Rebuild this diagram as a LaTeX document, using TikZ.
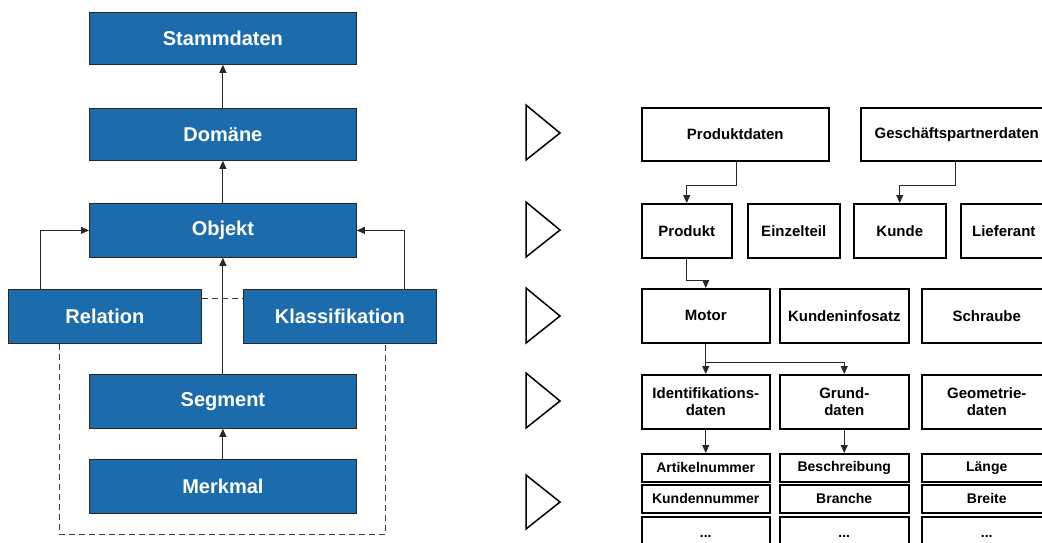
\documentclass[tikz,border=0pt]{standalone}
\usepackage{fontspec}
\setmainfont{Liberation Sans}
\usetikzlibrary{arrows.meta}
\definecolor{ebene}{RGB}{27,107,173}
\definecolor{linie}{RGB}{40,40,40}
\tikzset{
  bluebox/.style={draw=linie, line width=0.8pt, fill=ebene, text=white,
    font=\fontsize{20}{24}\selectfont\bfseries, inner sep=0pt, anchor=north west},
  databox/.style={draw=black, line width=1.5pt, fill=white, text=black,
    font=\fontsize{15}{17}\selectfont\bfseries, inner sep=0pt, anchor=north west, align=center},
  smallbox/.style={databox, font=\fontsize{14}{16}\selectfont\bfseries},
  arr/.style={draw=linie, line width=0.9pt, -{Triangle[length=8pt,width=7pt]}},
  dashline/.style={draw=linie!90, line width=0.9pt, dash pattern=on 6pt off 4pt},
  levelmark/.style={draw=black, line width=1.5pt, line join=miter}
}
\begin{document}
\begin{tikzpicture}[x=1pt,y=-1pt]
\useasboundingbox (0,0) rectangle (1042,542);
\clip (0,0) rectangle (1042,542);

% --- Ebenenmodell links ---
\node[bluebox, minimum width=267pt, minimum height=52pt] (stamm) at (89,12) {Stammdaten};
\node[bluebox, minimum width=267pt, minimum height=52pt] (dom) at (89,108) {Domäne};
\node[bluebox, minimum width=267pt, minimum height=54pt] (obj) at (89,203) {Objekt};
\node[bluebox, minimum width=193pt, minimum height=54pt] (rel) at (8,289) {Relation};
\node[bluebox, minimum width=193pt, minimum height=54pt] (kla) at (243,289) {Klassifikation};
\node[bluebox, minimum width=267pt, minimum height=54pt] (seg) at (89,374) {Segment};
\node[bluebox, minimum width=267pt, minimum height=54pt] (merk) at (89,459) {Merkmal};
\coordinate (ubot) at (223,534);

\draw[arr] (dom.north) -- (stamm.south);
\draw[arr] (obj.north) -- (dom.south);
\draw[arr] (seg.north) -- (obj.south);
\draw[arr] (merk.north) -- (seg.south);
\draw[arr] ([xshift=32pt]rel.north west) |- (obj.west);
\draw[arr] ([xshift=-32pt]kla.north east) |- (obj.east);
\draw[dashline] ([yshift=-9pt]rel.north east) -- ([yshift=-9pt]kla.north west);
\draw[dashline] ([xshift=51pt]rel.south west) |- (ubot) -| ([xshift=-51pt]kla.south east);

% --- Ebenenmarken ---
\draw[levelmark] (526,105) -- (560,133) -- (526,160) -- cycle;
\draw[levelmark] (526,202) -- (560,230) -- (526,257) -- cycle;
\draw[levelmark] (526,288) -- (560,316) -- (526,343) -- cycle;
\draw[levelmark] (526,373) -- (560,401) -- (526,428) -- cycle;
\draw[levelmark] (526,475) -- (560,502) -- (526,529) -- cycle;

% --- Beispiele rechts ---
\node[databox, minimum width=187pt, minimum height=53pt] (pd) at (641,107) {Produktdaten};
\node[databox, minimum width=192pt, minimum height=53pt] (gp) at (860,107) {Geschäftspartnerdaten};

\node[databox, minimum width=90pt, minimum height=54pt] (prod) at (641,203) {Produkt};
\node[databox, minimum width=92pt, minimum height=54pt] (einz) at (747,203) {Einzelteil};
\node[databox, minimum width=92pt, minimum height=54pt] (kunde) at (853,203) {Kunde};
\node[databox, minimum width=86pt, minimum height=54pt] (lief) at (960,203) {Lieferant};

\node[databox, minimum width=128pt, minimum height=54pt] (motor) at (641,288) {Motor};
\node[databox, minimum width=129pt, minimum height=54pt] (kinfo) at (779,288) {Kundeninfosatz};
\node[databox, minimum width=130pt, minimum height=54pt] (schr) at (921,288) {Schraube};

\node[databox, minimum width=128pt, minimum height=54pt] (ident) at (641,374) {Identifikations-\\daten};
\node[databox, minimum width=129pt, minimum height=54pt] (grund) at (779,374) {Grund-\\daten};
\node[databox, minimum width=130pt, minimum height=54pt] (geo) at (921,374) {Geometrie-\\daten};

\node[smallbox, minimum width=128pt, minimum height=28pt] (art) at (641,453) {Artikelnummer};
\node[smallbox, minimum width=129pt, minimum height=28pt] (besch) at (779,453) {Beschreibung};
\node[smallbox, minimum width=130pt, minimum height=28pt] (laenge) at (921,453) {Länge};
\node[smallbox, minimum width=128pt, minimum height=28pt] (knr) at (641,484) {Kundennummer};
\node[smallbox, minimum width=129pt, minimum height=28pt] (branche) at (779,484) {Branche};
\node[smallbox, minimum width=130pt, minimum height=28pt] (breite) at (921,484) {Breite};
\node[smallbox, minimum width=128pt, minimum height=40pt] (mehr1) at (641,516) {...};
\node[smallbox, minimum width=129pt, minimum height=40pt] (mehr2) at (779,516) {...};
\node[smallbox, minimum width=130pt, minimum height=40pt] (mehr3) at (921,516) {...};

\draw[arr] ([xshift=95pt]pd.south west) -- ++(0,24) -| (prod.north);
\draw[arr] ([xshift=95pt]gp.south west) -- ++(0,24) -| (kunde.north);
\draw[arr] (prod.south) -- ++(0,22) -| (motor.north);
\draw[arr] (motor.south) -- (ident.north);
\draw[arr] (motor.south) -- ++(0,19) -| (grund.north);
\draw[arr] (ident.south) -- (art.north);
\draw[arr] (grund.south) -- (besch.north);
\end{tikzpicture}
\end{document}
